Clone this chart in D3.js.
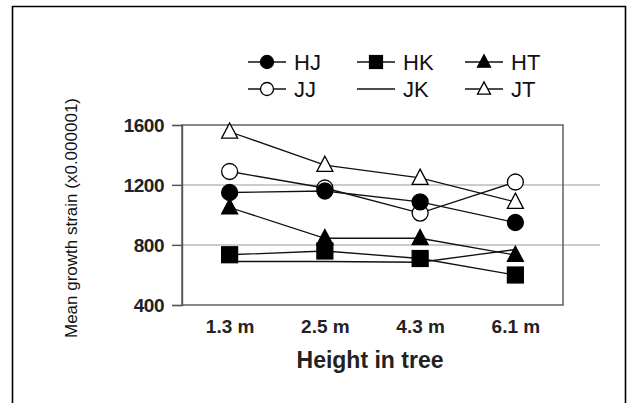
<!DOCTYPE html>
<html>
<head>
<meta charset="utf-8">
<script src="https://cdn.jsdelivr.net/npm/d3@7"></script>
<style>
  html, body { margin: 0; padding: 0; background: #fff; }
  svg { display: block; font-family: "Liberation Sans", Arial, sans-serif; }
</style>
</head>
<body>
<svg id="chart" width="633" height="403"></svg>
<script>
// ---- data ----
const heights = ["1.3 m", "2.5 m", "4.3 m", "6.1 m"];
const yTicks = [400, 800, 1200, 1600];
const gridValues = [800, 1200];
const seriesNames = ["HJ", "HK", "HT", "JJ", "JK", "JT"];
const HJ = [1150, 1160, 1087, 950];
const HK = [735, 760, 710, 600];
const HT = [1050, 845, 845, 733];
const JJ = [1290, 1180, 1013, 1220];
const JK = [690, 690, 685, 770];
const JT = [1555, 1333, 1247, 1087];

const seriesValues = { HJ, HK, HT, JJ, JK, JT };
const markerOf = { HJ: "circle-f", HK: "square-f", HT: "tri-f", JJ: "circle-o", JK: "none", JT: "tri-o" };

// ---- layout ----
const svg = d3.select("#chart");
const plot = { left: 182, right: 563, top: 125, bottom: 305 };

const x = d3.scalePoint().domain(heights).range([plot.left, plot.right]).padding(0.5);
const y = d3.scaleLinear().domain([400, 1600]).range([plot.bottom, plot.top]);

// outer frame (bottom edge cropped)
svg.append("path")
  .attr("d", "M12.5,403 L12.5,6.5 L625.5,6.5 L625.5,403")
  .attr("fill", "none").attr("stroke", "#000").attr("stroke-width", 1.6);

// grid lines
svg.append("g").selectAll("line").data(gridValues).join("line")
  .attr("x1", 172).attr("x2", 600)
  .attr("y1", d => y(d)).attr("y2", d => y(d))
  .attr("stroke", "#9a9a9a").attr("stroke-width", 1.2);

// plot box
svg.append("rect")
  .attr("x", plot.left).attr("y", plot.top)
  .attr("width", plot.right - plot.left).attr("height", plot.bottom - plot.top)
  .attr("fill", "none").attr("stroke", "#555").attr("stroke-width", 1.4);

// y axis
const yAxis = svg.append("g")
  .attr("transform", `translate(${plot.left},0)`)
  .call(d3.axisLeft(y).tickValues(yTicks).tickSize(10).tickPadding(8).tickFormat(d3.format("d")));
yAxis.select(".domain").attr("stroke", "#555").attr("stroke-width", 1.4);
yAxis.selectAll(".tick line").attr("stroke", "#555").attr("stroke-width", 1.2);
yAxis.selectAll(".tick text")
  .attr("font-size", 19).attr("font-weight", "bold").attr("fill", "#222")
  .attr("letter-spacing", -0.5)
  .attr("font-family", "'Liberation Sans', Arial, sans-serif");

// x axis labels
const xAxis = svg.append("g")
  .attr("transform", `translate(0,${plot.bottom})`)
  .call(d3.axisBottom(x).tickSize(0).tickPadding(15));
xAxis.select(".domain").remove();
xAxis.selectAll(".tick text")
  .attr("font-size", 19).attr("font-weight", "bold").attr("fill", "#222")
  .attr("font-family", "'Liberation Sans', Arial, sans-serif");

// axis titles
svg.append("text")
  .attr("x", 370).attr("y", 368)
  .attr("text-anchor", "middle")
  .attr("font-size", 23).attr("font-weight", "bold").attr("fill", "#222")
  .text("Height in tree");

svg.append("text")
  .attr("transform", "translate(77,218) rotate(-90)")
  .attr("text-anchor", "middle")
  .attr("font-size", 17).attr("fill", "#111")
  .text("Mean growth strain (x0.000001)");

// marker drawing
function drawMarker(g, type, cx, cy, s) {
  const fillC = type.endsWith("-f") ? "#000" : "#fff";
  if (type.startsWith("circle")) {
    g.append("circle").attr("cx", cx).attr("cy", cy).attr("r", s * 0.5)
      .attr("fill", fillC).attr("stroke", "#000").attr("stroke-width", 1.3);
  } else if (type.startsWith("square")) {
    g.append("rect").attr("x", cx - s * 0.5).attr("y", cy - s * 0.5)
      .attr("width", s).attr("height", s)
      .attr("fill", fillC).attr("stroke", "#000").attr("stroke-width", 1.2);
  } else if (type.startsWith("tri")) {
    const h = s * 0.95;
    g.append("path")
      .attr("d", `M${cx},${cy - h * 0.58} L${cx + s * 0.5},${cy + h * 0.42} L${cx - s * 0.5},${cy + h * 0.42} Z`)
      .attr("fill", fillC).attr("stroke", "#000").attr("stroke-width", 1.3);
  }
}

// series lines
const line = d3.line().x((d, i) => x(heights[i])).y(d => y(d));
const linesG = svg.append("g");
seriesNames.forEach(name => {
  linesG.append("path").datum(seriesValues[name])
    .attr("d", line)
    .attr("fill", "none").attr("stroke", "#111").attr("stroke-width", 1.3);
});

// series markers (open ones first so filled overlap as in the original)
const drawOrder = ["JT", "JJ", "JK", "HT", "HK", "HJ"];
const markG = svg.append("g");
drawOrder.forEach(name => {
  const type = markerOf[name];
  if (type === "none") return;
  seriesValues[name].forEach((v, i) => {
    drawMarker(markG, type, x(heights[i]), y(v), 16);
  });
});

// legend
const legendCols = [248, 357, 465];
const legendRows = [62, 89];
const legendLayout = [["HJ", 0, 0], ["HK", 1, 0], ["HT", 2, 0], ["JJ", 0, 1], ["JK", 1, 1], ["JT", 2, 1]];
const legG = svg.append("g");
legendLayout.forEach(([name, c, r]) => {
  const lx = legendCols[c], ly = legendRows[r];
  legG.append("line").attr("x1", lx).attr("x2", lx + 38).attr("y1", ly).attr("y2", ly)
    .attr("stroke", "#111").attr("stroke-width", 1.3);
  if (markerOf[name] !== "none") drawMarker(legG, markerOf[name], lx + 19, ly, 13);
  legG.append("text").attr("x", lx + 46).attr("y", ly + 8)
    .attr("font-size", 22).attr("fill", "#111")
    .text(name);
});
</script>
</body>
</html>
